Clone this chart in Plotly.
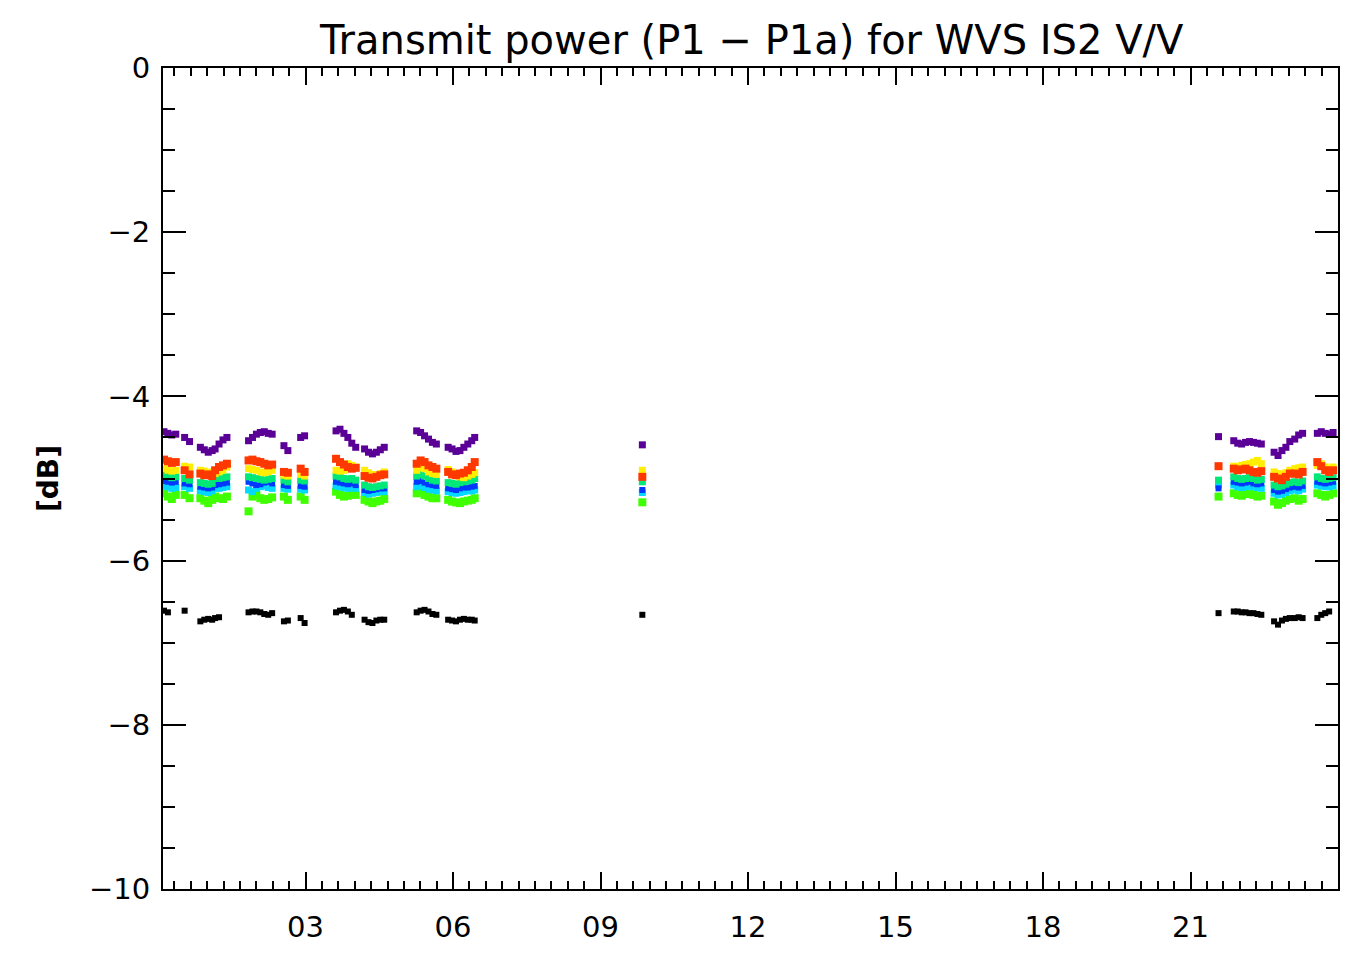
import plotly.graph_objects as go

# Observation times (hours of day), grouped by pass
hours = [
    0.12, 0.20, 0.28, 0.36,
    0.54, 0.64,
    0.86, 0.94, 1.02, 1.10,
    1.16, 1.24, 1.32, 1.40,
    1.84, 1.92, 2.00, 2.08, 2.16, 2.24, 2.32,
    2.56, 2.64,
    2.90, 2.98,
    3.62, 3.70, 3.78, 3.86, 3.94, 4.02,
    4.20, 4.28, 4.36, 4.44, 4.52, 4.60,
    5.26, 5.34, 5.42, 5.50, 5.58, 5.66,
    5.90, 5.98, 6.06, 6.14, 6.22, 6.30, 6.38, 6.44,
    9.85,
    21.57,
    21.88, 21.96, 22.04, 22.12, 22.20, 22.28, 22.36, 22.44,
    22.70, 22.78, 22.86, 22.94, 23.02,
    23.12, 23.20, 23.28,
    23.58, 23.66, 23.74, 23.82, 23.90,
]

p_purple = [
    -4.43, -4.45, -4.47, -4.46,
    -4.50, -4.55,
    -4.62, -4.65, -4.68, -4.66,
    -4.64, -4.58, -4.53, -4.50,
    -4.54, -4.50, -4.46, -4.44, -4.43, -4.45, -4.46,
    -4.60, -4.66,
    -4.50, -4.48,
    -4.42, -4.40, -4.45, -4.50, -4.57, -4.62,
    -4.64, -4.68, -4.70, -4.68, -4.65, -4.62,
    -4.42, -4.44, -4.48, -4.52, -4.56, -4.58,
    -4.62, -4.64, -4.67, -4.66, -4.62, -4.58, -4.54, -4.50,
    -4.59,
    -4.49,
    -4.54, -4.57, -4.58, -4.56, -4.55, -4.56, -4.57, -4.58,
    -4.68, -4.72, -4.66, -4.62, -4.55,
    -4.52, -4.47, -4.45,
    -4.45, -4.43, -4.45, -4.46, -4.44,
]

p_red = [
    -4.77, -4.79, -4.81, -4.80,
    -4.90, -4.95,
    -4.94, -4.96, -4.95, -4.97,
    -4.90, -4.86, -4.84, -4.82,
    -4.78, -4.77, -4.79, -4.80, -4.82, -4.84, -4.83,
    -4.92, -4.93,
    -4.88, -4.92,
    -4.76, -4.80, -4.83, -4.86, -4.88, -4.87,
    -4.97, -4.99, -5.00, -4.98, -4.96, -4.95,
    -4.82, -4.78, -4.80, -4.84, -4.86, -4.88,
    -4.92, -4.95, -4.96, -4.94, -4.93, -4.90, -4.86, -4.80,
    -4.98,
    -4.85,
    -4.88, -4.90, -4.89, -4.88, -4.90, -4.92, -4.93, -4.91,
    -4.98, -5.00, -5.02, -4.98, -4.94,
    -4.94, -4.95, -4.92,
    -4.80, -4.85, -4.90, -4.92, -4.90,
]

p_yellow = [
    -4.88, -4.90, -4.91, -4.90,
    -4.85, -4.86,
    -4.90, -4.91, -4.93, -4.92,
    -4.94, -4.92, -4.90, -4.86,
    -4.88, -4.89, -4.90, -4.92, -4.93, -4.92, -4.90,
    -4.96, -4.97,
    -4.95, -4.97,
    -4.90, -4.91, -4.90, -4.82, -4.84, -4.86,
    -4.90, -4.93, -4.95, -4.96, -4.94, -4.92,
    -4.90, -4.87, -4.88, -4.92, -4.94, -4.95,
    -4.89, -4.92, -4.96, -4.98, -4.99, -4.97, -4.95, -4.93,
    -4.90,
    None,
    -4.85, -4.86, -4.84, -4.83, -4.82, -4.80, -4.78, -4.82,
    -4.92, -4.94, -4.95, -4.93, -4.90,
    -4.88, -4.87, -4.86,
    -4.84, -4.82, -4.86, -4.88, -4.86,
]

p_green = [
    -4.96, -4.97, -4.99, -4.98,
    -5.00, -5.02,
    -5.05, -5.06, -5.07, -5.06,
    -5.00, -5.00, -4.99, -4.98,
    -4.98, -4.99, -5.00, -5.01, -5.02, -5.01, -5.00,
    -5.02, -5.04,
    -5.02, -5.03,
    -4.97, -4.98, -5.00, -5.01, -5.00, -5.02,
    -5.08, -5.10, -5.11, -5.10, -5.09, -5.08,
    -4.97, -4.95, -4.97, -5.00, -5.02, -5.03,
    -5.05, -5.06, -5.07, -5.05, -5.04, -5.03, -5.02, -5.00,
    -5.04,
    -5.02,
    -4.98, -5.00, -5.01, -5.00, -4.99, -5.00, -5.02, -5.01,
    -5.08, -5.10, -5.09, -5.07, -5.05,
    -5.04, -5.05, -5.03,
    -4.98, -5.00, -5.01, -5.00, -4.99,
]

p_blue = [
    -5.03, -5.04, -5.05, -5.04,
    -5.06, -5.07,
    -5.10, -5.11, -5.12, -5.11,
    -5.08, -5.07, -5.06, -5.05,
    -5.04, -5.06, -5.08, -5.07, -5.05, -5.04, -5.06,
    -5.08, -5.09,
    -5.09, -5.10,
    -5.04, -5.05, -5.06, -5.07, -5.06, -5.08,
    -5.14, -5.15, -5.14, -5.13, -5.12, -5.12,
    -5.04, -5.03, -5.05, -5.07, -5.08, -5.09,
    -5.12, -5.13, -5.14, -5.12, -5.11, -5.11, -5.10, -5.09,
    -5.14,
    -5.12,
    -5.04, -5.05, -5.06, -5.05, -5.04, -5.06, -5.07, -5.06,
    -5.14, -5.16, -5.15, -5.13, -5.11,
    -5.10, -5.11, -5.09,
    -5.04, -5.05, -5.06, -5.05, -5.04,
]

p_cyan = [
    -5.09, -5.10, -5.12, -5.11,
    -5.10, -5.12,
    -5.15, -5.16, -5.17, -5.15,
    -5.12, -5.12, -5.11, -5.10,
    -5.14, -5.16, -5.12, -5.10, -5.09, -5.11, -5.12,
    -5.12, -5.13,
    -5.13, -5.14,
    -5.09, -5.10, -5.11, -5.12, -5.10, -5.12,
    -5.17, -5.19, -5.18, -5.17, -5.16, -5.16,
    -5.10, -5.09, -5.11, -5.13, -5.14, -5.15,
    -5.16, -5.17, -5.18, -5.17, -5.16, -5.15, -5.15, -5.14,
    -5.17,
    -5.08,
    -5.08, -5.10, -5.11, -5.10, -5.09, -5.10, -5.11, -5.12,
    -5.18, -5.20, -5.19, -5.17, -5.15,
    -5.14, -5.15, -5.13,
    -5.08, -5.09, -5.10, -5.10, -5.09,
]

p_lime = [
    -5.18, -5.22, -5.25, -5.20,
    -5.20, -5.24,
    -5.24, -5.27, -5.30, -5.26,
    -5.22, -5.24, -5.25, -5.22,
    -5.40, -5.22, -5.20, -5.24, -5.26, -5.25, -5.23,
    -5.22, -5.26,
    -5.22, -5.26,
    -5.16, -5.20, -5.22, -5.21, -5.18, -5.20,
    -5.26, -5.28, -5.30, -5.28, -5.27, -5.25,
    -5.18, -5.16, -5.20, -5.22, -5.24, -5.24,
    -5.26, -5.28, -5.29, -5.30, -5.28, -5.27, -5.26, -5.24,
    -5.29,
    -5.22,
    -5.18, -5.20, -5.21, -5.19, -5.18, -5.20, -5.22, -5.21,
    -5.28, -5.32, -5.30, -5.27, -5.25,
    -5.24, -5.27, -5.25,
    -5.18, -5.20, -5.22, -5.20, -5.18,
]

p_black = [
    -6.61, -6.63, None, None,
    -6.61, None,
    -6.74, -6.72, -6.71, -6.72,
    -6.70, -6.69, None, None,
    -6.63, -6.62, -6.62, -6.63, -6.65, -6.66, -6.64,
    -6.74, -6.73,
    -6.70, -6.76,
    -6.63, -6.61, -6.60, -6.62, -6.66, None,
    -6.72, -6.75, -6.76, -6.73, -6.72, -6.72,
    -6.63, -6.61, -6.60, -6.62, -6.65, -6.66,
    -6.72, -6.73, -6.74, -6.72, -6.71, -6.72, -6.72, -6.73,
    -6.66,
    -6.64,
    -6.62, -6.62, -6.63, -6.63, -6.64, -6.64, -6.65, -6.66,
    -6.74, -6.78, -6.73, -6.71, -6.70,
    -6.70, -6.69, -6.70,
    -6.70, -6.66, -6.64, -6.62, None,
]

# (name, values, colour, marker size)
series = [
    ("black", p_black, "#000000", 6),
    ("lime", p_lime, "#40ff00", 8),
    ("cyan", p_cyan, "#00d8ff", 7),
    ("blue", p_blue, "#0038ff", 6),
    ("green", p_green, "#00e878", 7),
    ("yellow", p_yellow, "#ffee00", 7),
    ("red", p_red, "#ff3800", 8),
    ("purple", p_purple, "#5a0096", 7),
]

x_tick_vals = [3, 6, 9, 12, 15, 18, 21]
x_tick_text = ["03", "06", "09", "12", "15", "18", "21"]
y_tick_vals = [0, -2, -4, -6, -8, -10]

fig = go.Figure()
for name, vals, col, msize in series:
    fig.add_trace(go.Scatter(
        x=hours, y=vals, mode="markers", name=name,
        marker=dict(symbol="square", size=msize, color=col, line=dict(width=0)),
        showlegend=False,
    ))

font_family = "DejaVu Sans"
axis_common = dict(
    showline=True, linecolor="black", linewidth=2, mirror="allticks",
    ticks="inside", tickcolor="black", tickwidth=2,
    showgrid=False, zeroline=False,
    tickfont=dict(family=font_family, size=29, color="black"),
)

fig.update_xaxes(
    range=[0.1, 24.0], tickvals=x_tick_vals, ticktext=x_tick_text,
    ticklen=17, ticklabelstandoff=11,
    minor=dict(dtick=1/3, tick0=0, ticks="inside", ticklen=8,
               tickcolor="black", tickwidth=2, showgrid=False),
    **axis_common,
)
fig.update_yaxes(
    range=[-10, 0], tickvals=y_tick_vals, ticklen=23, ticklabelstandoff=5,
    minor=dict(dtick=0.5, tick0=0, ticks="inside", ticklen=12,
               tickcolor="black", tickwidth=2, showgrid=False),
    title=dict(text="<b>[dB]</b>", font=dict(family=font_family, size=28, color="black"),
               standoff=22),
    **axis_common,
)

fig.update_layout(
    width=1351, height=955,
    margin=dict(l=163, r=11, t=68, b=63),
    paper_bgcolor="white", plot_bgcolor="white",
    title=dict(text="Transmit power (P1 \u2212 P1a) for WVS IS2 V/V",
               x=0.5564, xanchor="center", y=0.958, yanchor="middle",
               font=dict(family=font_family, size=40, color="black")),
)

fig.write_html("out.html")
